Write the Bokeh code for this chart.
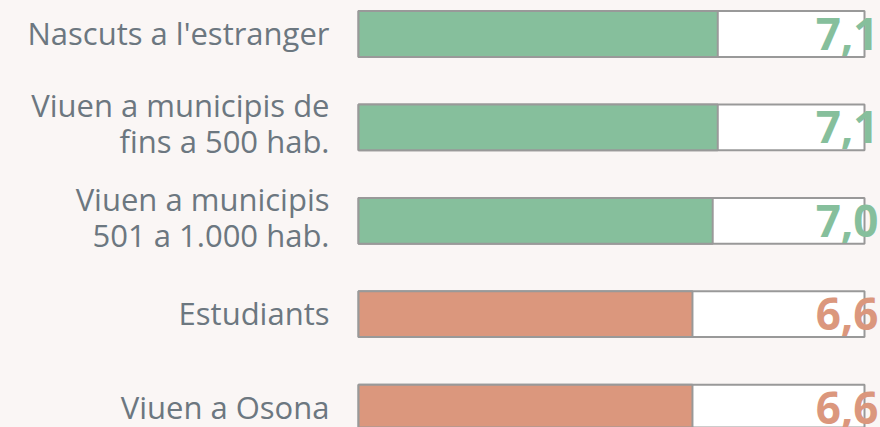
from bokeh.plotting import figure
from bokeh.models import Range1d, ColumnDataSource
from bokeh.embed import file_html
from bokeh.resources import INLINE
from bokeh.core.properties import value

labels = ["Nascuts a l'estranger", "Viuen a municipis de\nfins a 500 hab.",
          "Viuen a municipis\n501 a 1.000 hab.", "Estudiants", "Viuen a Osona"]
values = [7.1, 7.1, 7.0, 6.6, 6.6]
value_labels = ["7,1", "7,1", "7,0", "6,6", "6,6"]
colors = ["#86bf9c", "#86bf9c", "#86bf9c", "#db977d", "#db977d"]
max_value = 10

BG = "#faf6f5"
W, H = 880, 427
px_per_unit = 50.6
x0 = -358 / px_per_unit
row = 93.4
y0 = -33.5 / row

pos = list(range(len(labels)))
label_dy = [-1 - 3 * lab.count("\n") for lab in labels]
src = ColumnDataSource(dict(y=pos, v=values, c=colors, lab=labels, vl=value_labels,
                            full=[max_value] * len(values), zero=[0] * len(values),
                            dy=label_dy))

p = figure(width=W, height=H, output_backend="svg", toolbar_location=None,
           x_range=Range1d(x0, x0 + W / px_per_unit),
           y_range=Range1d(y0 + H / row, y0),
           min_border=0, background_fill_color=BG, border_fill_color=BG)
p.axis.visible = False
p.grid.visible = False
p.outline_line_color = None

p.hbar(y="y", left="zero", right="full", height=0.49, source=src,
       fill_color="white", line_color="#999999", line_width=2)
p.hbar(y="y", left="zero", right="v", height=0.49, source=src,
       fill_color="c", line_color="#999999", line_width=2)

p.text(x="zero", y="y", text="lab", source=src, x_offset=-29, y_offset="dy",
       text_align="right", text_baseline="middle",
       text_font=value("Open Sans"), text_font_size="31px",
       text_color="#6c7780", text_line_height=0.86)

p.text(x="full", y="y", text="vl", source=src, x_offset=14, y_offset=0,
       text_align="right", text_baseline="middle",
       text_font=value("Open Sans"), text_font_style="bold",
       text_font_size="44px", text_color="c")

html = file_html(p, INLINE)
html = html.replace("<head>", "<head><style>body{background:%s;}</style>" % BG, 1)
open("out.html", "w").write(html)
